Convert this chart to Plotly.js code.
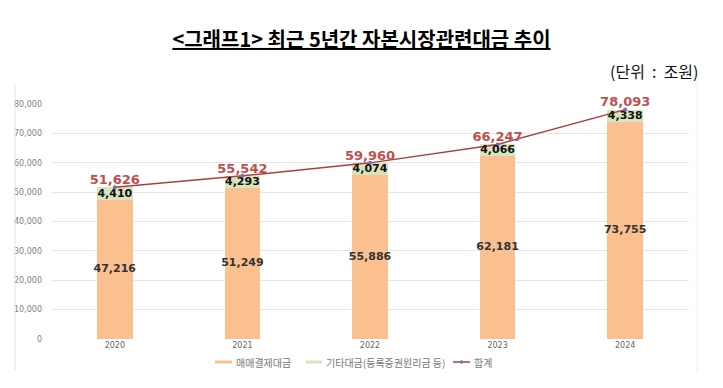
<!DOCTYPE html>
<html><head><meta charset="utf-8">
<script src="https://cdn.plot.ly/plotly-3.0.1.min.js"></script>
<style>html,body{margin:0;padding:0;background:#fff}#c{width:723px;height:388px}</style>
</head><body><div id="c"></div>
<script>
const years = ['2020','2021','2022','2023','2024'];
const settlement = [47216, 51249, 55886, 62181, 73755];
const other = [4410, 4293, 4074, 4066, 4338];
const totals = [51626, 55542, 59960, 66247, 78093];
const yTicks = [0,10000,20000,30000,40000,50000,60000,70000,80000];
const seriesNames = ['매매결제대금', '기타대금(등록증권원리금 등)', '합계'];
const seriesColors = ['#FAC090', '#D7E4BD', '#A8403E'];

const KR = '"Noto Sans CJK KR", "Noto Sans", sans-serif';
const NUM = '"DejaVu Sans", sans-serif';
const fmt = v => v.toLocaleString('en-US');

const traces = [
  {type:'bar', x:years, y:settlement, name:seriesNames[0], marker:{color:seriesColors[0]}, hoverinfo:'none', showlegend:false},
  {type:'bar', x:years, y:other, name:seriesNames[1], marker:{color:seriesColors[1]}, hoverinfo:'none', showlegend:false},
  {type:'scatter', mode:'lines+markers', x:years, y:totals, name:seriesNames[2], showlegend:false,
   line:{color:seriesColors[2], width:1.5}, marker:{color:'#7E6BB0', size:4}, hoverinfo:'none'},
  {type:'scatter', mode:'text', x:years, y:settlement.map(v=>v/2), text:settlement.map(fmt),
   textfont:{family:NUM, size:11, color:'#333333', weight:'bold'}, showlegend:false, hoverinfo:'none', cliponaxis:false},
  {type:'scatter', mode:'text', x:years, y:settlement.map((v,i)=>v+other[i]/2), text:other.map(fmt),
   textfont:{family:NUM, size:11, color:'#111111', weight:'bold'}, showlegend:false, hoverinfo:'none', cliponaxis:false},
  {type:'scatter', mode:'text', x:years, y:totals, text:totals.map(fmt), textposition:'top center',
   textfont:{family:NUM, size:13, color:'#C0504D', weight:'bold'}, showlegend:false, hoverinfo:'none', cliponaxis:false}
];

// manual legend (pixel positions converted to paper coords)
const L = 51, W = 638, B = 339, H = 235;
const px = p => (p - L) / W;
const py = p => (B - p) / H;
const legY = 362;
const legItems = [
  {x0:215, x1:232, tx:234, kind:'bar'},
  {x0:306, x1:322, tx:324, kind:'bar'},
  {x0:453, x1:470, tx:472, kind:'line'}
];
const shapes = [
  {type:'line', xref:'paper', yref:'paper', x0:px(15), x1:px(15), y0:py(370), y1:py(83), line:{color:'#E3E3E3', width:1}},
  {type:'line', xref:'paper', yref:'paper', x0:px(697), x1:px(697), y0:py(372), y1:py(80), line:{color:'#F0F0F0', width:1}}
];
const annotations = [
  {text:'(단위&nbsp;&nbsp;:&nbsp;&nbsp;조원)', xref:'paper', yref:'paper', x:px(700), y:py(71), xanchor:'right', yanchor:'middle', showarrow:false,
   font:{family:KR, size:16, color:'#111'}}
];
legItems.forEach((it, i) => {
  if (it.kind === 'bar') {
    shapes.push({type:'rect', xref:'paper', yref:'paper', x0:px(it.x0), x1:px(it.x1), y0:py(legY+1.5), y1:py(legY-1.5),
      fillcolor:seriesColors[i], line:{width:0}});
  } else {
    shapes.push({type:'line', xref:'paper', yref:'paper', x0:px(it.x0), x1:px(it.x1), y0:py(legY), y1:py(legY),
      line:{color:seriesColors[i], width:1.5}});
    shapes.push({type:'circle', xref:'paper', yref:'paper', x0:px((it.x0+it.x1)/2-1.8), x1:px((it.x0+it.x1)/2+1.8),
      y0:py(legY+1.8), y1:py(legY-1.8), fillcolor:'#7E6BB0', line:{width:0}});
  }
  annotations.push({text:seriesNames[i], xref:'paper', yref:'paper', x:px(it.tx), y:py(legY), xanchor:'left', yanchor:'middle',
    showarrow:false, font:{family:KR, size:10, color:'#777'}});
});

const layout = {
  width:723, height:388,
  margin:{l:L, r:723-L-W, t:B-H, b:388-B},
  paper_bgcolor:'#fff', plot_bgcolor:'#fff',
  barmode:'stack', bargap:0.72,
  showlegend:false,
  title:{text:'<b><u><그래프1> 최근 5년간 자본시장관련대금 추이</u></b>', x:0.5, xanchor:'center', y:0.897, yanchor:'middle',
    font:{family:KR, size:20, color:'#000'}},
  xaxis:{type:'category', showline:false, ticks:'', tickfont:{family:NUM, size:8, color:'#666'}, fixedrange:true},
  yaxis:{range:[0,80000], tickvals:yTicks, ticktext:yTicks.map(fmt), showgrid:true, gridcolor:'#E6E6E6', gridwidth:1,
    zeroline:false, showline:false, ticks:'', ticklen:0, ticklabelstandoff:8,
    tickfont:{family:NUM, size:8, color:'#808080'}, fixedrange:true},
  annotations:annotations,
  shapes:shapes
};
Plotly.newPlot('c', traces, layout, {displayModeBar:false, staticPlot:true});
</script></body></html>
